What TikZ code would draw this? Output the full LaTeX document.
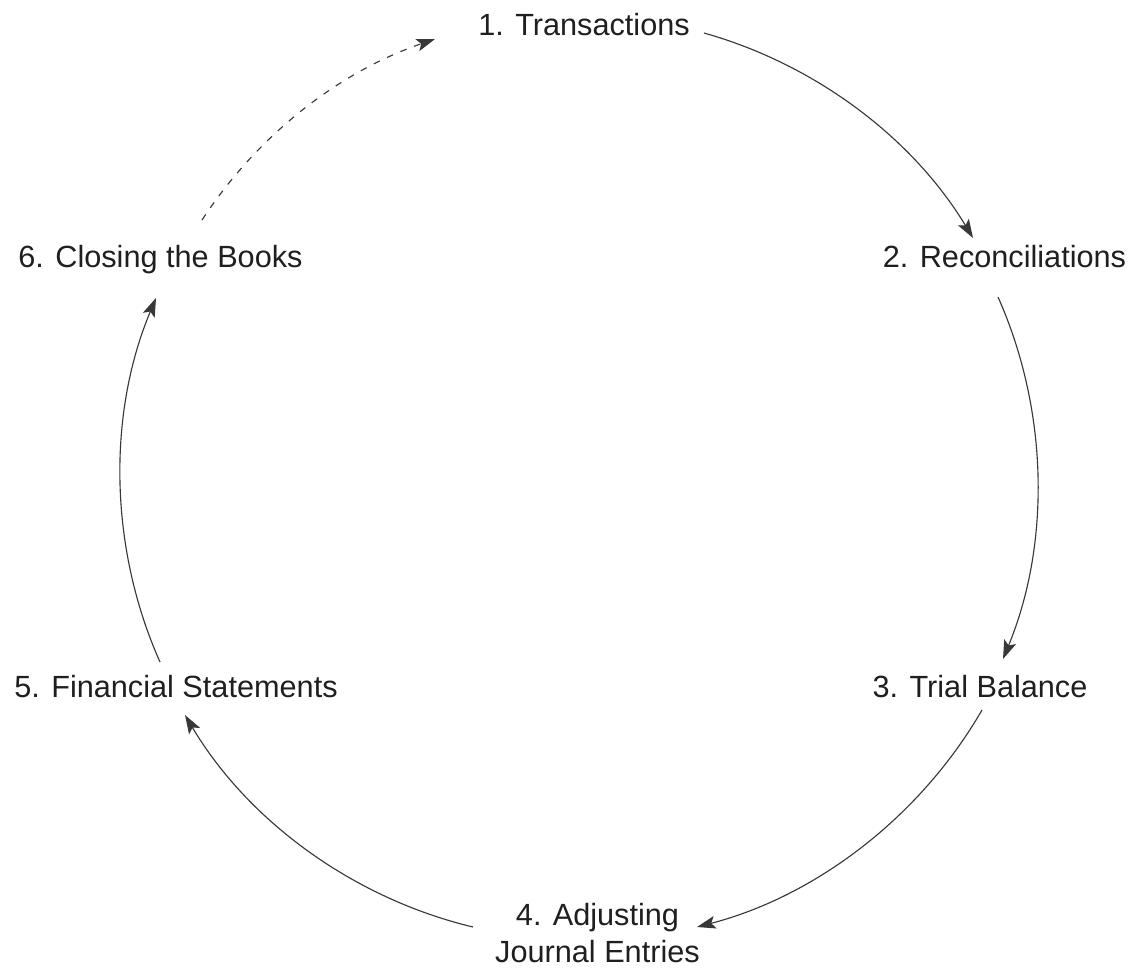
\documentclass[tikz,border=0pt]{standalone}
\usepackage{fontspec}
\setmainfont{Liberation Sans}
\usetikzlibrary{calc,arrows.meta}

\begin{document}
\begin{tikzpicture}[x=0.75pt,y=0.75pt,
    stage/.style={font=\fontsize{23}{27.75}\selectfont, text=black!88, inner sep=0pt, anchor=base, align=center},
    flow/.style={draw=black!78, line width=0.85pt, looseness=0.88, -{Stealth[length=14pt,width=9.5pt,inset=3pt]}}]
  \useasboundingbox (0,0) rectangle (1134,-971);

  % the six steps of the cycle
  \foreach \n/\x/\y/\txt in {t1/584/35/{1. Transactions}, t2/1004.5/267/{2. Reconciliations},
      t3/980/697/{3. Trial Balance}, t4/597.5/962/{4. Adjusting\\Journal Entries},
      t5/176/697/{5. Financial Statements}, t6/160.5/267/{6. Closing the Books}}
    \node[stage] (\n) at (\x,-\y) {\txt};

  % arcs between the steps
  \foreach \src/\sx/\sy/\dst/\dx/\dy/\bend in {t1.base east/14/2/t2.base/-31.5/29/21.6,
      t2.base/-6.5/-30/t3.base/23/38/23.2, t3.base/2/-13/t4.base/99.5/35/22.7,
      t4.base/-124.5/35/t5.base/9/-18/22.9, t5.base/-16/35/t6.base/-4.5/-31/23.4}
    \draw[flow] ($(\src)+(\sx,\sy)$) to[bend left=\bend] ($(\dst)+(\dx,\dy)$);
  \draw[flow, dash pattern=on 5pt off 6pt] ($(t6.base)+(41.5,47)$) to[bend left=18.9] ($(t1.base west)+(-43,-4)$);
\end{tikzpicture}
\end{document}
